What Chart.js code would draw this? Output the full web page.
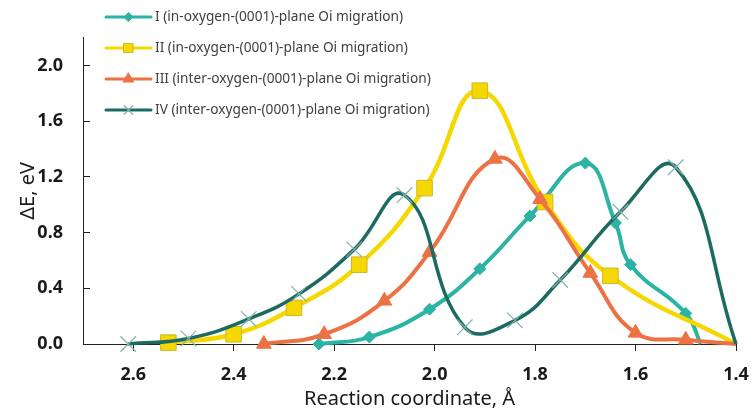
<!DOCTYPE html>
<html>
<head>
<meta charset="utf-8">
<script src="https://cdn.jsdelivr.net/npm/chart.js@4.4.1/dist/chart.umd.min.js"></script>
<style>
  html, body { margin: 0; padding: 0; background: #fff; }
  canvas { display: block; }
</style>
</head>
<body>
<canvas id="chart" width="754" height="411"></canvas>
<script>
// reaction coordinate (Å) and energy (eV) for each migration path
const xI = [2.23, 2.13, 2.01, 1.91, 1.81, 1.70, 1.64, 1.61, 1.50, 1.47];
const yI = [0.00, 0.05, 0.25, 0.54, 0.92, 1.30, 0.87, 0.57, 0.22, 0.00];

const xII = [2.53, 2.40, 2.28, 2.15, 2.02, 1.91, 1.78, 1.65, 1.40];
const yII = [0.01, 0.07, 0.26, 0.57, 1.12, 1.82, 1.02, 0.49, 0.00];

const xIII = [2.34, 2.22, 2.10, 2.01, 1.88, 1.79, 1.69, 1.60, 1.50, 1.40];
const yIII = [0.00, 0.07, 0.31, 0.66, 1.33, 1.04, 0.51, 0.08, 0.03, 0.00];

const xIV = [2.61, 2.49, 2.37, 2.27, 2.16, 2.06, 1.94, 1.84, 1.75, 1.63, 1.52, 1.40];
const yIV = [0.00, 0.04, 0.18, 0.36, 0.68, 1.07, 0.12, 0.17, 0.46, 0.95, 1.27, 0.00];

const seriesNames = [
    'I (in-oxygen-(0001)-plane Oi migration)',
    'II (in-oxygen-(0001)-plane Oi migration)',
    'III (inter-oxygen-(0001)-plane Oi migration)',
    'IV (inter-oxygen-(0001)-plane Oi migration)'
];

const xTicks = [1.4, 1.6, 1.8, 2.0, 2.2, 2.4, 2.6];
const yTicks = [0.0, 0.4, 0.8, 1.2, 1.6, 2.0];

function toPoints(xs, ys) {
    return xs.map((x, i) => ({ x: x, y: ys[i] }));
}

// no marker on the last point of each curve
function radiusFor(r, n) {
    return ctx => ctx.dataIndex === n - 1 ? 0 : r;
}

const styles = [
    { color: '#2bb3a3', pointStyle: 'rectRot', radius: 6, pointBorder: '#2bb3a3', pointBorderWidth: 1, width: 4, legendR: 4.5 },
    { color: '#f6d800', pointStyle: 'rect', radius: 11, pointBorder: '#cdb72a', pointBorderWidth: 1, width: 4.5, legendR: 6.5 },
    { color: '#ec7245', pointStyle: 'triangle', radius: 8.5, pointBorder: '#ec7245', pointBorderWidth: 1, width: 4, legendR: 6 },
    { color: '#1c6b61', pointStyle: 'crossRot', radius: 11, pointBorder: '#7fb2aa', pointBorderWidth: 1.2, width: 3.5, legendR: 6 }
];

const allX = [xI, xII, xIII, xIV];
const allY = [yI, yII, yIII, yIV];

const datasets = allX.map((xs, i) => {
    const s = styles[i];
    return {
        label: seriesNames[i],
        data: toPoints(xs, allY[i]),
        showLine: true,
        borderColor: s.color,
        backgroundColor: s.color,
        borderWidth: s.width,
        tension: 0.45,
        pointStyle: s.pointStyle,
        pointRadius: radiusFor(s.radius, xs.length),
        pointHoverRadius: 0,
        pointBackgroundColor: s.color,
        pointBorderColor: s.pointBorder,
        pointBorderWidth: s.pointBorderWidth,
        clip: false,
        order: 4 - i
    };
});

// legend drawn in the top-left corner, over the plot
const legendPlugin = {
    id: 'cornerLegend',
    afterDraw(chart) {
        const c = chart.ctx;
        c.save();
        chart.data.datasets.forEach((ds, i) => {
            const s = styles[i];
            const y = 17 + i * 31;
            c.strokeStyle = s.color;
            c.lineWidth = 3;
            c.lineCap = 'round';
            c.beginPath();
            c.moveTo(106, y);
            c.lineTo(151, y);
            c.stroke();
            c.fillStyle = s.color;
            c.strokeStyle = s.pointBorder;
            c.lineWidth = s.pointBorderWidth;
            Chart.helpers.drawPoint(c, {
                pointStyle: s.pointStyle,
                radius: s.legendR,
                rotation: 0,
                borderWidth: s.pointBorderWidth
            }, 128.5, y);
            c.fillStyle = '#404040';
            c.font = '13.7px "Noto Sans"';
            c.textAlign = 'left';
            c.textBaseline = 'middle';
            c.fillText(ds.label, 155, y);
        });
        c.restore();
    }
};

const ctx = document.getElementById('chart').getContext('2d');

const chart = new Chart(ctx, {
    type: 'scatter',
    data: { datasets: datasets },
    plugins: [legendPlugin],
    options: {
        responsive: false,
        animation: false,
        devicePixelRatio: 1,
        layout: { padding: { left: 0, right: 18, top: 24, bottom: 0 } },
        plugins: {
            legend: { display: false },
            tooltip: { enabled: false }
        },
        scales: {
            x: {
                type: 'linear',
                reverse: true,
                min: 1.4,
                max: 2.7,
                afterBuildTicks: scale => {
                    scale.ticks = xTicks.map(v => ({ value: v }));
                },
                afterFit: scale => { scale.height = 67; },
                border: { color: '#222', width: 1 },
                grid: { display: true, drawOnChartArea: false, drawTicks: true, tickLength: 7, color: '#222' },
                ticks: {
                    padding: 13,
                    color: '#1a1a1a',
                    font: { family: 'Noto Sans', size: 18, weight: 'bold' },
                    callback: v => v.toFixed(1)
                },
                title: {
                    display: true,
                    text: 'Reaction coordinate, Å',
                    color: '#1a1a1a',
                    padding: { top: 0, bottom: 0 },
                    font: { family: 'Noto Sans', size: 20 }
                }
            },
            y: {
                type: 'linear',
                min: 0,
                max: 2.2,
                afterBuildTicks: scale => {
                    scale.ticks = yTicks.map(v => ({ value: v }));
                },
                afterFit: scale => { scale.width = 83; },
                border: { color: '#222', width: 1 },
                grid: { display: true, drawOnChartArea: false, drawTicks: true, tickLength: -7, color: '#222' },
                ticks: {
                    padding: 27,
                    color: '#1a1a1a',
                    font: { family: 'Noto Sans', size: 18, weight: 'bold' },
                    callback: v => v.toFixed(1)
                },
                title: {
                    display: true,
                    text: 'ΔE, eV',
                    color: '#1a1a1a',
                    padding: { top: 16, bottom: 0 },
                    font: { family: 'Noto Sans', size: 20 }
                }
            }
        }
    }
});
</script>
</body>
</html>
